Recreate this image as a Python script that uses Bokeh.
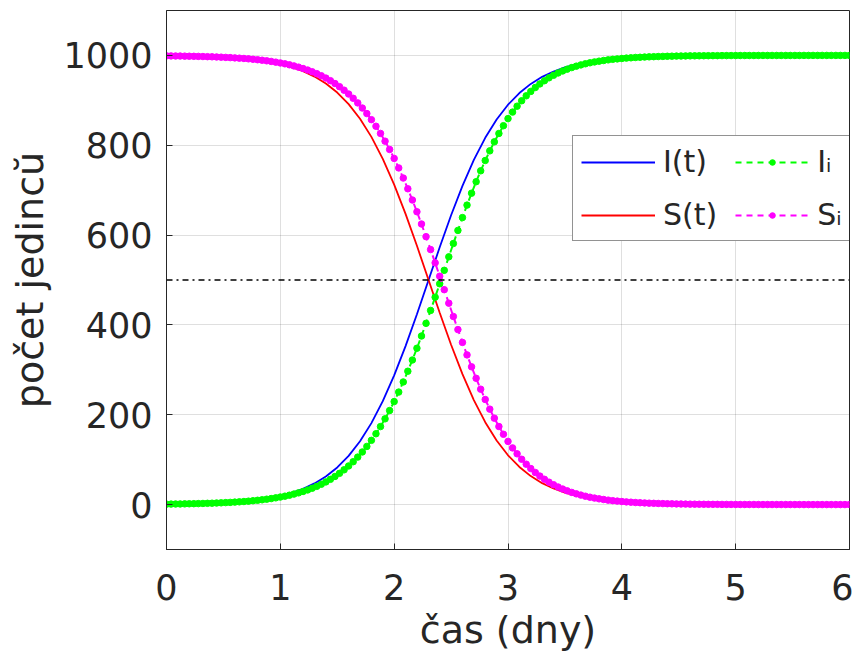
from bokeh.plotting import figure
from bokeh.models import Range1d, Span, Legend, LegendItem, FixedTicker
from bokeh.embed import file_html
from bokeh.resources import INLINE

# ---------------- data ----------------
# continuous solution, sampled every 0.1 day
t_cont = [round(0.1 * k, 1) for k in range(61)]
I_cont = [1.0, 1.3, 1.8, 2.5, 3.3, 4.5, 6.0, 8.1, 10.9, 14.7,
          19.7, 26.4, 35.3, 47.1, 62.6, 82.7, 108.4, 141.0, 181.4, 230.3,
          287.7, 352.8, 423.9, 498.3, 572.8, 644.1, 709.6, 767.3, 816.6, 857.3,
          890.2, 916.3, 936.6, 952.3, 964.2, 973.2, 980.0, 985.1, 988.9, 991.8,
          993.9, 995.5, 996.6, 997.5, 998.2, 998.6, 999.0, 999.2, 999.4, 999.6,
          999.7, 999.8, 999.8, 999.9, 999.9, 999.9, 999.9, 1000.0, 1000.0, 1000.0, 1000.0]
S_cont = [999.0, 998.7, 998.2, 997.5, 996.7, 995.5, 994.0, 991.9, 989.1, 985.3,
          980.3, 973.6, 964.7, 952.9, 937.4, 917.3, 891.6, 859.0, 818.6, 769.7,
          712.3, 647.2, 576.1, 501.7, 427.2, 355.9, 290.4, 232.7, 183.4, 142.7,
          109.8, 83.7, 63.4, 47.7, 35.8, 26.8, 20.0, 14.9, 11.1, 8.2,
          6.1, 4.5, 3.4, 2.5, 1.8, 1.4, 1.0, 0.8, 0.6, 0.4,
          0.3, 0.2, 0.2, 0.1, 0.1, 0.1, 0.1, 0.0, 0.0, 0.0, 0.0]

# discrete (step) solution, one point every 0.04 day
t_disc = [round(0.04 * k, 2) for k in range(151)]
I_disc = [1.0, 1.1, 1.3, 1.4, 1.6, 1.8, 2.0, 2.2, 2.5, 2.8,
          3.1, 3.5, 3.9, 4.4, 4.9, 5.5, 6.1, 6.8, 7.6, 8.6,
          9.6, 10.7, 12.0, 13.4, 15.0, 16.8, 18.7, 20.9, 23.4, 26.1,
          29.2, 32.6, 36.4, 40.6, 45.3, 50.5, 56.2, 62.6, 69.6, 77.4,
          86.0, 95.4, 105.7, 117.1, 129.5, 143.0, 157.7, 173.7, 190.9, 209.4,
          229.3, 250.5, 273.0, 296.9, 321.9, 348.1, 375.3, 403.5, 432.3, 461.8,
          491.6, 521.6, 551.6, 581.2, 610.4, 639.0, 666.7, 693.3, 718.8, 743.1,
          766.0, 787.5, 807.6, 826.2, 843.5, 859.3, 873.8, 887.0, 899.1, 910.0,
          919.8, 928.6, 936.6, 943.7, 950.1, 955.8, 960.9, 965.4, 969.4, 972.9,
          976.1, 978.9, 981.4, 983.6, 985.5, 987.2, 988.7, 990.1, 991.3, 992.3,
          993.2, 994.0, 994.7, 995.4, 995.9, 996.4, 996.8, 997.2, 997.5, 997.8,
          998.1, 998.3, 998.5, 998.7, 998.9, 999.0, 999.1, 999.2, 999.3, 999.4,
          999.5, 999.5, 999.6, 999.6, 999.7, 999.7, 999.8, 999.8, 999.8, 999.8,
          999.9, 999.9, 999.9, 999.9, 999.9, 999.9, 999.9, 999.9, 999.9, 999.9,
          1000.0, 1000.0, 1000.0, 1000.0, 1000.0, 1000.0, 1000.0, 1000.0, 1000.0, 1000.0,
          1000.0]
S_disc = [999.0, 998.9, 998.7, 998.6, 998.4, 998.2, 998.0, 997.8, 997.5, 997.2,
          996.9, 996.5, 996.1, 995.6, 995.1, 994.5, 993.9, 993.2, 992.4, 991.4,
          990.4, 989.3, 988.0, 986.6, 985.0, 983.2, 981.3, 979.1, 976.6, 973.9,
          970.8, 967.4, 963.6, 959.4, 954.7, 949.5, 943.8, 937.4, 930.4, 922.6,
          914.0, 904.6, 894.3, 882.9, 870.5, 857.0, 842.3, 826.3, 809.1, 790.6,
          770.7, 749.5, 727.0, 703.1, 678.1, 651.9, 624.7, 596.5, 567.7, 538.2,
          508.4, 478.4, 448.4, 418.8, 389.6, 361.0, 333.3, 306.7, 281.2, 256.9,
          234.0, 212.5, 192.4, 173.8, 156.5, 140.7, 126.2, 113.0, 100.9, 90.0,
          80.2, 71.4, 63.4, 56.3, 49.9, 44.2, 39.1, 34.6, 30.6, 27.1,
          23.9, 21.1, 18.6, 16.4, 14.5, 12.8, 11.3, 9.9, 8.7, 7.7,
          6.8, 6.0, 5.3, 4.6, 4.1, 3.6, 3.2, 2.8, 2.5, 2.2,
          1.9, 1.7, 1.5, 1.3, 1.1, 1.0, 0.9, 0.8, 0.7, 0.6,
          0.5, 0.5, 0.4, 0.4, 0.3, 0.3, 0.2, 0.2, 0.2, 0.2,
          0.1, 0.1, 0.1, 0.1, 0.1, 0.1, 0.1, 0.1, 0.1, 0.1,
          0.0, 0.0, 0.0, 0.0, 0.0, 0.0, 0.0, 0.0, 0.0, 0.0,
          0.0]

half_level = 500
x_ticks = [0, 1, 2, 3, 4, 5, 6]
y_ticks = [0, 200, 400, 600, 800, 1000]

label_I = "I(t)"
label_S = "S(t)"
label_Ii = "I\u1d62"
label_Si = "S\u1d62"
x_label = "čas (dny)"
y_label = "počet jedincŭ"

# ---------------- figure ----------------
TXT = "#262626"
FONT = "DejaVu Sans"

p = figure(output_backend="svg", toolbar_location=None,
           frame_width=683, frame_height=539,
           min_border_left=166, min_border_right=4,
           min_border_top=10, min_border_bottom=98,
           x_range=Range1d(0, 6), y_range=Range1d(-100, 1100))
p.background_fill_color = "white"
p.border_fill_color = "white"
p.outline_line_color = TXT
p.outline_line_width = 1

for ax in (p.xaxis[0], p.yaxis[0]):
    ax.axis_line_color = TXT
    ax.major_tick_line_color = TXT
    ax.major_tick_in = 6
    ax.major_tick_out = 0
    ax.minor_tick_line_color = None
    ax.major_label_text_font = FONT
    ax.major_label_text_font_size = "35px"
    ax.major_label_text_color = TXT
    ax.axis_label_text_font = FONT
    ax.axis_label_text_font_size = "38px"
    ax.axis_label_text_font_style = "normal"
    ax.axis_label_text_color = TXT

p.xaxis.ticker = FixedTicker(ticks=x_ticks)
p.yaxis.ticker = FixedTicker(ticks=y_ticks)
p.xaxis.axis_label = x_label
p.yaxis.axis_label = y_label
p.xaxis.major_label_standoff = 24
p.xaxis.axis_label_standoff = 5
p.yaxis.major_label_standoff = 14
p.yaxis.axis_label_standoff = 8

p.xgrid.ticker = FixedTicker(ticks=x_ticks)
p.ygrid.ticker = FixedTicker(ticks=y_ticks)
p.grid.grid_line_color = TXT
p.grid.grid_line_alpha = 0.15
p.grid.grid_line_width = 1

# ---------------- series ----------------
r_I = p.line(t_cont, I_cont, line_color="#0000ff", line_width=1.8)
r_S = p.line(t_cont, S_cont, line_color="#ff0000", line_width=1.8)
r_Il = p.line(t_disc, I_disc, line_color="#00ff00", line_width=2, line_dash="6 5")
r_Id = p.scatter(t_disc, I_disc, marker="circle", size=6.5,
                 fill_color="#00ff00", line_color="#00ff00")
r_Sl = p.line(t_disc, S_disc, line_color="#ff00ff", line_width=2, line_dash="6 5")
r_Sd = p.scatter(t_disc, S_disc, marker="circle", size=6.5,
                 fill_color="#ff00ff", line_color="#ff00ff")

p.add_layout(Span(location=half_level, dimension="width", line_color="black",
                  line_width=1.5, line_dash="dashdot"))

legend = Legend(items=[
    LegendItem(label=label_I, renderers=[r_I]),
    LegendItem(label=label_S, renderers=[r_S]),
    LegendItem(label=label_Ii, renderers=[r_Il, r_Id]),
    LegendItem(label=label_Si, renderers=[r_Sl, r_Sd]),
], ncols=2, location=(406, 308))
legend.label_text_font = FONT
legend.label_text_font_size = "30px"
legend.label_text_color = TXT
legend.glyph_width = 74
legend.glyph_height = 14
legend.label_width = 51
legend.label_standoff = 8
legend.spacing = 18
legend.padding = 8
legend.margin = 0
legend.border_line_color = TXT
legend.border_line_width = 1
legend.background_fill_color = "white"
legend.background_fill_alpha = 1
p.add_layout(legend, "center")

open("out.html", "w").write(file_html(p, INLINE))
